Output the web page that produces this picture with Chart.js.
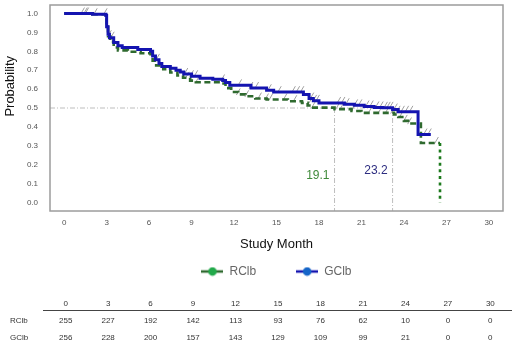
<!DOCTYPE html>
<html><head><meta charset="utf-8">
<script src="https://cdn.jsdelivr.net/npm/chart.js@4/dist/chart.umd.min.js"></script>
<style>
html,body{margin:0;padding:0;background:#fff;}
#wrap{position:relative;width:520px;height:343px;font-family:"Liberation Sans",Arial,sans-serif;overflow:hidden;}
#c{position:absolute;left:0;top:0;}
.t{position:absolute;font-size:8px;color:#333;transform:translate(-50%,-50%);white-space:nowrap;}
.rl{position:absolute;font-size:8px;color:#333;transform:translateY(-50%);white-space:nowrap;}
#rule{position:absolute;left:43px;width:469px;top:310px;height:0;border-top:1.5px solid #444;}
</style></head><body>
<div id="wrap"><canvas id="c" width="520" height="343"></canvas><div id="rule"></div></div>
<script>
// ---- data ----
const seriesNames = ['RClb', 'GClb'];
const rclbMonths = [0, 2.0, 2.95, 3.0, 3.1, 3.25, 3.5, 3.8, 4.5, 5.4, 6.1, 6.25, 6.5, 7.0, 7.5, 8.0, 8.4, 8.9, 9.3, 11.0, 11.4, 11.8, 12.3, 12.8, 13.5, 14.3, 15.8, 16.8, 17.2, 17.6, 19.1, 20.3, 21.0, 23.3, 23.6, 24.0, 24.3, 25.2, 26.55, 26.55];
const rclbSurv   = [1.0, 0.996, 0.99, 0.93, 0.88, 0.85, 0.82, 0.805, 0.798, 0.79, 0.785, 0.75, 0.725, 0.705, 0.688, 0.672, 0.66, 0.645, 0.636, 0.63, 0.605, 0.585, 0.572, 0.562, 0.55, 0.545, 0.536, 0.527, 0.513, 0.502, 0.494, 0.484, 0.474, 0.466, 0.452, 0.432, 0.418, 0.315, 0.315, 0.0];
const gclbMonths = [0, 2.0, 2.95, 3.0, 3.1, 3.2, 3.5, 3.8, 4.1, 5.2, 6.1, 6.25, 6.45, 6.7, 6.9, 7.5, 7.9, 8.2, 8.45, 9.0, 9.6, 10.5, 11.2, 11.4, 11.7, 13.2, 14.3, 14.8, 16.9, 17.3, 17.6, 18.0, 19.8, 20.5, 21.2, 21.9, 22.5, 23.2, 23.6, 25.0, 25.9];
const gclbSurv   = [1.0, 0.996, 0.99, 0.93, 0.89, 0.872, 0.846, 0.83, 0.82, 0.81, 0.80, 0.775, 0.755, 0.735, 0.72, 0.71, 0.70, 0.69, 0.68, 0.668, 0.658, 0.652, 0.646, 0.635, 0.62, 0.606, 0.594, 0.584, 0.572, 0.55, 0.538, 0.527, 0.52, 0.514, 0.508, 0.503, 0.501, 0.492, 0.48, 0.36, 0.36];
const rclbCensor = [1.5, 2.2, 3.2, 6.4, 8.7, 9.4, 12.3, 12.9, 13.8, 14.3, 14.6, 15.6, 16.3, 17.3, 17.6, 19.3, 19.6, 20.4, 21.6, 22.3, 22.8, 23.2, 23.5, 23.8, 24.1, 24.4, 26.3];
const gclbCensor = [1.3, 1.6, 2.9, 3.4, 6.6, 8.6, 9.0, 9.3, 11.2, 12.4, 13.2, 13.6, 14.5, 15.2, 16.2, 16.5, 16.8, 17.5, 17.7, 17.9, 19.4, 19.7, 20.0, 20.6, 20.9, 21.4, 21.7, 22.1, 22.4, 22.7, 22.9, 23.1, 23.4, 23.6, 23.9, 24.2, 24.5, 25.5, 25.8];
const medians = [19.1, 23.2];
const medianLabels = ['19.1', '23.2'];
const xTickValues = [0, 3, 6, 9, 12, 15, 18, 21, 24, 27, 30];
const xTickLabels = ['0', '3', '6', '9', '12', '15', '18', '21', '24', '27', '30'];
const yTickValues = [0, 0.1, 0.2, 0.3, 0.4, 0.5, 0.6, 0.7, 0.8, 0.9, 1.0];
const yTickLabels = ['0.0', '0.1', '0.2', '0.3', '0.4', '0.5', '0.6', '0.7', '0.8', '0.9', '1.0'];
const xTitle = 'Study Month';
const yTitle = 'Probability';
const tableMonths = ['0', '3', '6', '9', '12', '15', '18', '21', '24', '27', '30'];
const riskRClb = [255, 227, 192, 142, 113, 93, 76, 62, 10, 0, 0];
const riskGClb = [256, 228, 200, 157, 143, 129, 109, 99, 21, 0, 0];

// ---- styling ----
const X_MIN = -1, X_MAX = 31, Y_MIN = -0.045, Y_MAX = 1.045;
const GREEN_LINE = '#2f6a2f', BLUE_LINE = '#1414b0';
const GREEN_DOT = '#22a94a', BLUE_DOT = '#1565c8';
const FONT = '"Liberation Sans", Arial, sans-serif';

function toPts(xs, ys) { return xs.map((x, i) => ({x: x, y: ys[i]})); }
function stepAt(xs, ys, t) { let v = ys[0]; for (let i = 0; i < xs.length; i++) { if (xs[i] <= t) v = ys[i]; } return v; }
function censorPts(c, xs, ys) { return c.map(t => ({x: t, y: stepAt(xs, ys, t) + 0.014})); }

function marker(line, dot) {
  const cv = document.createElement('canvas'); cv.width = 22; cv.height = 10;
  const g = cv.getContext('2d');
  g.strokeStyle = line; g.lineWidth = 2.5; g.beginPath(); g.moveTo(0, 5); g.lineTo(22, 5); g.stroke();
  g.fillStyle = dot; g.beginPath(); g.arc(11, 5, 4.3, 0, Math.PI * 2); g.fill();
  return cv;
}
const markers = [marker(GREEN_LINE, GREEN_DOT), marker(BLUE_LINE, BLUE_DOT)];

const lastR = rclbMonths.length - 1;
const refColor = '#bdbdbd';
const refDash = [5, 2, 1, 2];
const datasets = [
  {label: seriesNames[0], data: toPts(rclbMonths, rclbSurv), showLine: true, stepped: true,
   borderColor: GREEN_LINE, borderWidth: 2.6, borderDash: [6, 3.5], pointRadius: 0, order: 2,
   segment: {borderDash: c => c.p1DataIndex === lastR ? [3, 3.6] : undefined,
             borderColor: c => c.p1DataIndex === lastR ? '#1d7a1d' : undefined}},
  {label: seriesNames[1], data: toPts(gclbMonths, gclbSurv), showLine: true, stepped: true,
   borderColor: BLUE_LINE, borderWidth: 3, pointRadius: 0, order: 1},
  {label: 'c1', data: censorPts(rclbCensor, rclbMonths, rclbSurv), showLine: false,
   pointStyle: 'line', rotation: -60, pointRadius: 3.8, borderColor: '#a0a0a0', borderWidth: 1, order: 5},
  {label: 'c2', data: censorPts(gclbCensor, gclbMonths, gclbSurv), showLine: false,
   pointStyle: 'line', rotation: -60, pointRadius: 3.8, borderColor: '#a0a0a0', borderWidth: 1, order: 5},
  {label: 'h', data: [{x: X_MIN, y: 0.5}, {x: Math.max(...medians), y: 0.5}], showLine: true,
   borderColor: refColor, borderWidth: 1, borderDash: refDash, pointRadius: 0, order: 9}
];
medians.forEach((m, i) => datasets.push({label: 'v' + i, data: [{x: m, y: 0.5}, {x: m, y: Y_MIN}], showLine: true,
  borderColor: refColor, borderWidth: 1, borderDash: refDash, pointRadius: 0, order: 9}));

const frame = {
  id: 'frame',
  afterLayout(chart) {
    const lg = chart.legend;
    if (lg) { lg.top -= 29.5; lg.bottom -= 29.5; }
  },
  afterDatasetsDraw(chart) {
    const {ctx, chartArea: a, scales} = chart;
    ctx.save();
    ctx.strokeStyle = '#9c9c9c'; ctx.lineWidth = 1.5;
    ctx.strokeRect(a.left, a.top, a.right - a.left, a.bottom - a.top);
    ctx.font = '12px ' + FONT; ctx.textAlign = 'right'; ctx.textBaseline = 'middle';
    const cols = ['#3f8a3a', '#2d2d80'];
    const ys = [0.14, 0.166];
    medians.forEach((m, i) => {
      ctx.fillStyle = cols[i];
      ctx.fillText(medianLabels[i], scales.x.getPixelForValue(m) - 5, scales.y.getPixelForValue(ys[i]));
    });
    // y-axis title
    ctx.translate(10, scales.y.getPixelForValue(0.615));
    ctx.rotate(-Math.PI / 2);
    ctx.textAlign = 'center';
    ctx.fillStyle = '#111';
    ctx.font = '13px ' + FONT;
    ctx.fillText(yTitle, 0, 0);
    ctx.restore();
  }
};

const chart = new Chart(document.getElementById('c'), {
  type: 'scatter',
  data: {datasets},
  options: {
    responsive: false, animation: false,
    layout: {padding: {left: 0, right: 17, top: 4, bottom: 26}},
    plugins: {
      tooltip: {enabled: false},
      legend: {
        position: 'bottom', fullSize: false,
        labels: {
          usePointStyle: true, pointStyleWidth: 22, padding: 40,
          font: {size: 12, family: FONT}, color: '#666',
          generateLabels: () => seriesNames.map((n, i) => ({text: n, pointStyle: markers[i], fillStyle: 'transparent',
            strokeStyle: 'transparent', lineWidth: 0, fontColor: '#666', datasetIndex: i, hidden: false}))
        }
      }
    },
    scales: {
      x: {
        type: 'linear', min: X_MIN, max: X_MAX,
        grid: {display: false, drawTicks: false}, border: {display: false},
        afterBuildTicks: s => { s.ticks = xTickValues.map(v => ({value: v})); },
        afterFit: s => { s.height = 44; },
        ticks: {padding: 7, color: '#555', font: {size: 8, family: FONT}, maxRotation: 0,
                callback: (v, i) => xTickLabels[i]},
        title: {display: true, text: xTitle, color: '#111', font: {size: 13, family: FONT}, padding: {top: 0, bottom: 3}}
      },
      y: {
        type: 'linear', min: Y_MIN, max: Y_MAX,
        grid: {display: true, drawOnChartArea: false, drawTicks: true, tickLength: 12, color: 'transparent', tickColor: 'transparent'},
        border: {display: false},
        afterBuildTicks: s => { s.ticks = yTickValues.map(v => ({value: v})); },
        afterFit: s => { s.width = 50; },
        ticks: {padding: 0, color: '#555', font: {size: 8, family: FONT}, callback: (v, i) => yTickLabels[i]},
        title: {display: false}
      }
    }
  },
  plugins: [frame]
});

// ---- at-risk table (HTML text) ----
const wrap = document.getElementById('wrap');
function addDiv(cls, text, x, y) {
  const d = document.createElement('div'); d.className = cls; d.textContent = text;
  d.style.left = x + 'px'; d.style.top = y + 'px'; wrap.appendChild(d);
}
const xs = chart.scales.x;
tableMonths.forEach((m, i) => {
  const px = xs.getPixelForValue(xTickValues[i]) + 1.5;
  addDiv('t', m, px, 303);
  addDiv('t', String(riskRClb[i]), px, 319.5);
  addDiv('t', String(riskGClb[i]), px, 337);
});
addDiv('rl', seriesNames[0], 10, 319.5);
addDiv('rl', seriesNames[1], 10, 337);
</script>
</body></html>
